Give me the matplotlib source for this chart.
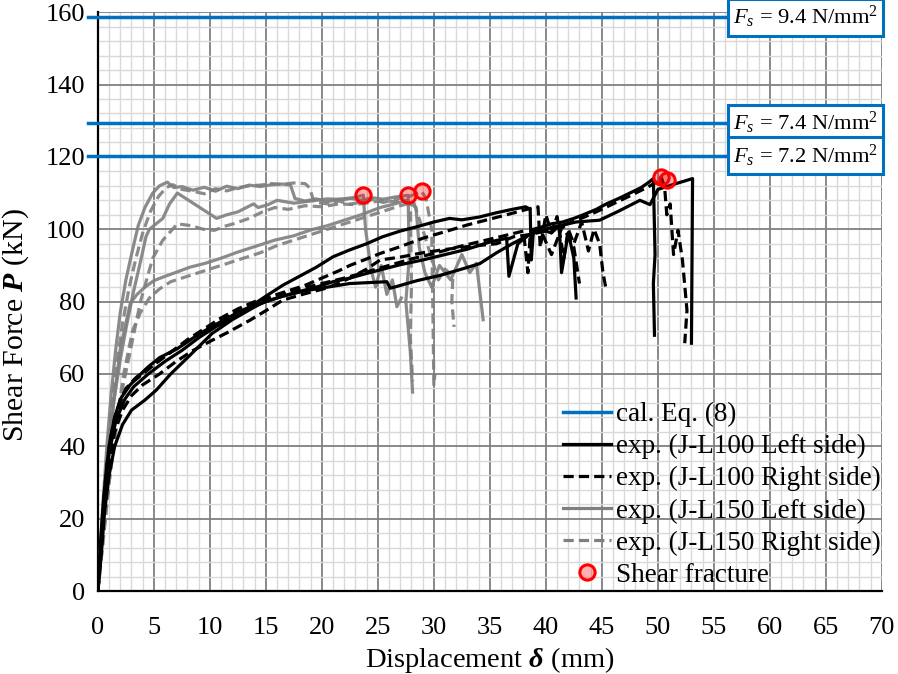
import matplotlib
matplotlib.use("Agg")
import matplotlib.pyplot as plt
from matplotlib.lines import Line2D
from matplotlib.ticker import MultipleLocator

plt.rcParams['font.family'] = ['Liberation Serif', 'DejaVu Serif']
plt.rcParams['mathtext.fontset'] = 'custom'
plt.rcParams['mathtext.rm'] = 'Liberation Serif'
plt.rcParams['mathtext.it'] = 'Liberation Serif:italic'
plt.rcParams['mathtext.bf'] = 'Liberation Serif:bold:italic'

# calculated shear force lines (Eq. 8)
fs_values = [9.4, 7.4, 7.2]
fs_forces = [158.6, 129.3, 120.3]

# J-L100 specimens (black)
l100_left_a_x = [0, 0.2, 0.5, 0.8, 1.1, 1.5, 2.0, 2.7, 3.5, 4.5, 5.5, 7.1, 9, 11, 12.5, 13.6, 15, 16.5, 18, 19.5,
                 21, 22.5, 24, 25.4, 27, 28.5, 30, 31.4, 32.5, 34.1, 35.5, 37, 38.2, 38.6, 38.7, 38.9, 39.5, 40.5,
                 41.5, 42.5, 43.5, 44.5, 45.4, 46.5, 47.5, 48.5, 49.2, 49.6, 49.7, 49.75, 49.6, 49.7]
l100_left_a_y = [0, 12, 25, 35, 42, 48, 53, 56.4, 59, 62, 64.5, 67, 71, 74.5, 77, 78.6, 81.5, 84.5, 87, 89.5,
                 92.4, 94.3, 96, 97.9, 99.5, 100.7, 102, 103, 102.6, 103.4, 104.5, 105.5, 106.2, 105.5, 91.5, 100,
                 100.5, 101.5, 102, 103, 104.2, 105.5, 107, 108.5, 110, 111.5, 113, 114, 100, 93, 85, 70.7]

l100_left_b_x = [0, 0.3, 0.6, 1.0, 1.5, 2.2, 3.0, 4.2, 5.2, 6.5, 8, 10.2, 12, 14.6, 16.5, 18.5, 20.5, 22.5, 24.5,
                 25.8, 26.1, 26.7, 28.5, 30.5, 32.5, 34.1, 35.6, 37, 38.8, 40.5, 42.7, 44.8, 46.5, 48.4, 49.3, 50.0,
                 51.5, 53.1, 53.0]
l100_left_b_y = [0, 10, 22, 32, 40, 46, 50, 52.8, 55.5, 60, 64.5, 71.2, 75, 79.6, 81.5, 83, 84, 85, 85.3,
                 85.5, 83.7, 84.2, 85.8, 87.2, 89, 90.5, 93.5, 96, 98.9, 100.5, 102, 102.5, 105, 108, 106.8, 111,
                 112.5, 114, 68.5]

l100_left_c_x = [0, 0.3, 0.6, 1.0, 1.6, 2.4, 3.2, 4.5, 6, 7.5, 9, 10.5, 12, 13.5, 15, 16.5, 18, 19.5, 21, 22.5,
                 24, 25.5, 27, 29, 31, 33, 35, 36.5, 36.7, 37.5, 38.5, 39.5, 40.5, 41.2, 41.4, 42, 42.5, 42.7]
l100_left_c_y = [0, 13, 27, 38, 47, 53, 56.5, 60, 63.5, 66.5, 70, 73, 75.5, 78, 80, 81.5, 82.8, 84, 85.5, 86.5,
                 87.8, 89, 90.2, 91.5, 93, 94.5, 96.5, 97.5, 87, 96, 98.5, 100, 99, 101, 88, 99, 92, 81]

l100_right_a_x = [0, 0.3, 0.6, 1.0, 1.5, 2.2, 3.0, 4.0, 5.0, 6.5, 8, 9.5, 11, 12.5, 14, 15.5, 17, 18.5, 20, 21.5,
                  22.5, 24, 25.2, 27, 29, 31.4, 33, 35, 36.5, 38.3, 39.3, 39.5, 40, 40.5, 41, 41.6, 42, 42.5, 43.2,
                  43.8, 44.3, 44.8, 45.1, 45.4]
l100_right_a_y = [0, 14, 28, 40, 48, 54, 57.5, 60, 62.5, 66, 69.5, 72.5, 75.5, 78, 80, 81.5, 83, 84.5, 86.5, 88.5,
                  90, 91.8, 93.3, 95.2, 97.5, 99.7, 101.2, 102.8, 104, 105.5, 106.2, 95, 104, 99, 103.5, 92, 100,
                  96, 102, 94, 100, 96, 88, 83]

l100_right_b_x = [0, 0.3, 0.6, 1.0, 1.5, 2.2, 3.0, 4.0, 5.5, 7, 8.5, 10, 11.6, 13.6, 15, 16.5, 18.5, 20.5, 22.5,
                  24, 25.2, 27, 29, 31, 33, 35.6, 37.1, 38.5, 40, 41.5, 43, 44.5, 46, 47.5, 49, 50.0, 50.3, 50.6,
                  50.8, 51.1, 51.4, 51.8, 52.2, 52.6, 52.4]
l100_right_b_y = [0, 12, 24, 35, 44, 50, 54, 57, 60, 63.5, 66.5, 69, 71.5, 74.9, 77.5, 80.4, 82.2, 83.8, 86.5,
                  89, 91.5, 92.3, 93.5, 94.4, 95.2, 96, 97.9, 98.5, 99.5, 101, 102.8, 104.8, 107, 109.2, 111.5,
                  113.2, 114.4, 111.7, 104, 107, 93, 99.7, 91.4, 77.6, 68.5]

l100_right_c_x = [0, 0.3, 0.7, 1.1, 1.7, 2.5, 3.4, 4.6, 6, 7.5, 9, 10.5, 12, 13.5, 15, 16.5, 18, 20, 22, 24, 26,
                  28, 30, 32, 34, 36, 38, 38.4, 38.6, 39.5, 40.5, 41.5, 42.5, 43.0]
l100_right_c_y = [0, 13, 27, 40, 50, 56, 59, 62, 65, 68, 71, 74, 76.5, 78.8, 80.5, 82, 83.5, 85, 86.5, 88.2, 90,
                  91.8, 93.3, 95, 96.5, 98, 99.5, 88, 98.5, 100, 93, 101, 95, 85]

# J-L150 specimens (grey)
l150_left_a_x = [0, 0.4, 0.8, 1.2, 1.6, 2.0, 2.5, 3.0, 3.6, 4.2, 4.9, 5.5, 6.2, 6.8, 7.5, 8.5, 9.5, 10.5, 11.5,
                 12.5, 13.5, 14.5, 15.5, 16.5, 17.2, 17.6, 18.5, 19.5, 20.5, 21.5, 22.5, 23.5, 24.5, 25.5, 26.5,
                 27.2, 27.7, 27.8, 27.5, 27.9, 28.1]
l150_left_a_y = [0, 22, 40, 55, 67, 77, 86, 93, 101, 106, 110, 112, 113, 111.5, 111.8, 110.8, 111.6, 110.5, 111.9,
                 111.2, 112.2, 111.8, 112.3, 112.5, 112.2, 108.5, 107.8, 108.4, 107.6, 108.3, 108.6, 108.0, 108.7,
                 108.3, 108.9, 109.2, 109.4, 92, 80, 66, 55]

l150_left_b_x = [0, 0.4, 0.9, 1.4, 2.0, 2.6, 3.2, 3.8, 4.3, 4.6, 5.2, 5.8, 6.4, 7.1, 10.6, 11.5, 12.5, 13.9, 14.3,
                 15.2, 16.0, 17.5, 19, 20.5, 22, 23, 23.7, 23.9, 24.4, 24.8, 25.3, 25.8, 26.3, 26.7, 27.1]
l150_left_b_y = [0, 20, 38, 52, 64, 74, 83, 91, 98, 100, 101.5, 103, 107, 110, 103, 104, 104.8, 107, 106,
                 106.8, 108, 107.2, 107.8, 108.4, 108.2, 108.9, 109.4, 100, 88.7, 84, 90, 82, 86, 78.6, 81]

l150_left_c_x = [0, 0.4, 0.9, 1.4, 2.0, 2.9, 3.5, 4.2, 5.0, 6.0, 6.9, 8.2, 9.6, 11, 12.5, 14, 15.8, 17.5, 19, 20.5,
                 22, 23.5, 25.2, 26.5, 27.6, 28.4, 28.7, 29.2, 29.8, 30.5, 31.5, 32.5, 33.2, 33.8, 34.4]
l150_left_c_y = [0, 18, 36, 52, 67, 79.6, 82, 84, 85.8, 87, 88, 89.5, 90.6, 92, 93.7, 95.2, 97, 98.2, 99.8, 101,
                 102.5, 104, 106, 107, 108, 106, 95, 88, 84, 90, 86, 93, 88, 90.6, 75]

l150_right_a_x = [0, 0.4, 0.8, 1.2, 1.7, 2.2, 2.8, 3.4, 4.0, 4.7, 5.4, 6.1, 6.7, 7.5, 8.5, 9.5, 10.5, 11.5, 12.5,
                  13.5, 14.5, 15.5, 16.5, 17.5, 18.5, 18.9, 19.3, 20.5, 21.5, 22.5, 23.5, 24.5, 25.5, 26.5, 27.5,
                  28.3, 28.9, 29.3, 29.8, 29.9, 30.0, 30.1]
l150_right_a_y = [0, 18, 35, 50, 63, 74, 84, 92, 99, 105, 109, 111.5, 112.3, 111, 110.5, 109.8, 111.2, 110.6,
                  111.5, 112, 112.2, 112.6, 112.4, 112.8, 112.6, 111.5, 107.5, 107, 107.8, 106.9, 107.5, 108.2,
                  107.4, 108.3, 108.8, 109.6, 110.5, 108.5, 100, 80, 57, 60]

l150_right_b_x = [0, 0.5, 1.0, 1.6, 2.2, 3.0, 3.8, 4.9, 5.8, 7.1, 8.3, 9.4, 10.4, 11.3, 12.2, 13.5, 14.7, 15.8, 17,
                  18.5, 20, 21.5, 23, 24.5, 25.5, 26.5, 27.3, 27.9, 28.0, 27.9, 28.1]
l150_right_b_y = [0, 15, 30, 44, 56, 68, 80, 92, 97, 101.5, 101, 100, 99.7, 100.8, 101.6, 103, 104.8, 106, 105.5,
                  106.5, 106.2, 107, 106.8, 107.5, 108, 107.6, 108.2, 107, 85, 70, 58]

l150_right_c_x = [0, 0.5, 1.0, 1.6, 2.3, 3.1, 3.8, 4.6, 5.5, 6.5, 7.5, 8.8, 10, 11.5, 13, 14.5, 16, 17.5, 19.5, 21,
                  22.5, 24, 25.5, 27, 28.2, 29, 29.8, 30.4, 31.0, 31.7, 31.6, 31.8]
l150_right_c_y = [0, 15, 30, 45, 60, 72, 77, 81, 83.5, 85.5, 86.5, 87.8, 89, 90.5, 92, 93.5, 95.5, 97, 99, 100.5,
                  102, 103.5, 105, 106.5, 107.5, 100, 92, 86, 89, 87, 80, 73]

# shear fracture points
fracture_x = [23.7, 27.7, 28.9, 50.3, 50.8]
fracture_y = [109.4, 109.4, 110.5, 114.4, 113.6]

blue = '#0070C0'
grey = '#7f7f7f'
dash = (3.2, 1.6)
lw = 2.3

fig = plt.figure(figsize=(8.98, 6.74), dpi=100)
ax = fig.add_axes([0.109, 0.123, 0.873, 0.859])

grey_left = [(l150_left_a_x, l150_left_a_y), (l150_left_b_x, l150_left_b_y), (l150_left_c_x, l150_left_c_y)]
grey_right = [(l150_right_a_x, l150_right_a_y), (l150_right_b_x, l150_right_b_y), (l150_right_c_x, l150_right_c_y)]
black_left = [(l100_left_a_x, l100_left_a_y), (l100_left_b_x, l100_left_b_y), (l100_left_c_x, l100_left_c_y)]
black_right = [(l100_right_a_x, l100_right_a_y), (l100_right_b_x, l100_right_b_y), (l100_right_c_x, l100_right_c_y)]

for x, y in grey_left:
    ax.plot(x, y, color=grey, lw=lw, alpha=0.9, zorder=3)
for x, y in grey_right:
    ax.plot(x, y, color=grey, lw=lw, alpha=0.9, dashes=dash, zorder=3)
for x, y in black_left:
    ax.plot(x, y, color='black', lw=lw, zorder=4)
for x, y in black_right:
    ax.plot(x, y, color='black', lw=lw, dashes=dash, zorder=4)

ax.plot(fracture_x, fracture_y, 'o', ms=11, mec='red', mew=2.2, mfc=(1, 0, 0, 0.3), zorder=6)

for fs, force in zip(fs_values, fs_forces):
    ax.axhline(force, xmin=-0.013, xmax=1, color=blue, lw=2.5, clip_on=False, zorder=5)
    ax.text(69.65, force, r'$F_s$ = %.1f N/mm$^2$' % fs, ha='right', va='center', fontsize=16.2, zorder=7,
            clip_on=False,
            bbox=dict(boxstyle='square,pad=0.24', fc='white', ec=blue, lw=2.2))

ax.set_xlim(0, 70)
ax.set_ylim(0, 160)
ax.xaxis.set_major_locator(MultipleLocator(5))
ax.xaxis.set_minor_locator(MultipleLocator(1))
ax.yaxis.set_major_locator(MultipleLocator(20))
ax.yaxis.set_minor_locator(MultipleLocator(4))
ax.grid(which='minor', color='#d9d9d9', lw=1.0)
ax.grid(which='major', color='#808080', lw=1.3)
ax.set_axisbelow(True)
ax.tick_params(which='both', length=0, labelsize=19)
ax.tick_params(axis='x', pad=19)
ax.tick_params(axis='y', pad=9)
ax.spines['top'].set_visible(False)
ax.spines['right'].set_visible(False)
ax.spines['left'].set_linewidth(1.6)
ax.spines['bottom'].set_linewidth(1.6)

ax.set_xlabel(r'Displacement $\mathbf{\delta}$ (mm)', fontsize=20.5, labelpad=4)
ax.set_ylabel(r'Shear Force $\mathbf{P}$ (kN)', fontsize=21.5)
ax.yaxis.set_label_coords(-0.085, 0.46)

handles = [
    Line2D([], [], color=blue, lw=2.5),
    Line2D([], [], color='black', lw=lw),
    Line2D([], [], color='black', lw=lw, dashes=dash),
    Line2D([], [], color=grey, lw=lw),
    Line2D([], [], color=grey, lw=lw, dashes=dash),
    Line2D([], [], ls='none', marker='o', ms=11, mec='red', mew=2.2, mfc=(1, 0, 0, 0.3)),
]
labels = ['cal. Eq. (8)', 'exp. (J-L100 Left side)', 'exp. (J-L100 Right side)',
          'exp. (J-L150 Left side)', 'exp. (J-L150 Right side)', 'Shear fracture']
ax.legend(handles, labels, loc='lower right', bbox_to_anchor=(1.023, -0.027), frameon=False, fontsize=19.5,
          handlelength=1.75, handletextpad=0.2, labelspacing=0.26, borderpad=0.2)

fig.savefig('out.png', dpi=100)
